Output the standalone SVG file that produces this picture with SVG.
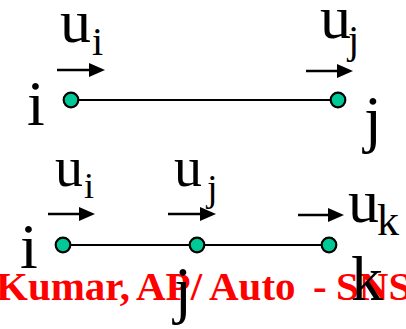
<svg xmlns="http://www.w3.org/2000/svg" width="406" height="329" viewBox="0 0 406 329">
  <style>
    .lbl { font-family: 'Liberation Serif', serif; fill: #000; }
    .mark { font-family: 'Liberation Serif', serif; font-weight: bold; font-size: 41px; fill: #FF0000; }
    .bar { stroke: #000; stroke-width: 2.2; fill: none; }
    .node { fill: #00C897; stroke: #000; stroke-width: 2.2; }
    .disp { stroke: #000; stroke-width: 2.5; fill: none; marker-end: url(#head); }
  </style>
  <defs>
    <marker id="head" viewBox="0 0 16 14" refX="10" refY="7" markerWidth="16" markerHeight="14" markerUnits="userSpaceOnUse" orient="auto">
      <path d="M0,0 L16,7 L0,14 Z" fill="#000"/>
    </marker>
  </defs>
  <rect width="406" height="329" fill="#fff"/>

  <!-- footer credit line -->
  <text class="mark" y="300"><tspan x="-4">Kumar,</tspan><tspan x="136">AP/</tspan><tspan x="209">Auto</tspan><tspan x="313">-</tspan><tspan x="336">SNS</tspan></text>

  <!-- bar elements -->
  <g id="connectors">
    <line class="bar" x1="71" y1="100" x2="338" y2="100"/>
    <line class="bar" x1="63" y1="245" x2="329" y2="245"/>
  </g>

  <!-- two-node element -->
  <g id="node-i-top">
    <circle class="node" cx="71" cy="100" r="7.3"/>
    <text class="lbl" x="27" y="125" font-size="64">i</text>
  </g>
  <g id="node-j-top">
    <circle class="node" cx="338" cy="100" r="7.3"/>
    <text class="lbl" x="364" y="140" font-size="64">j</text>
  </g>

  <!-- three-node element -->
  <g id="node-i-bottom">
    <circle class="node" cx="63" cy="245" r="7.3"/>
    <text class="lbl" x="20" y="268" font-size="64">i</text>
  </g>
  <g id="node-j-bottom">
    <circle class="node" cx="197" cy="245" r="7.3"/>
    <text class="lbl" x="174" y="311" font-size="64">j</text>
  </g>
  <g id="node-k-bottom">
    <circle class="node" cx="329" cy="245" r="7.3"/>
    <text class="lbl" x="351" y="300" font-size="64">k</text>
  </g>

  <!-- nodal displacements -->
  <g id="displacements">
    <line class="disp" x1="57" y1="70" x2="99" y2="70"/>
    <text class="lbl" x="60" y="42" font-size="62">u</text>
    <text class="lbl" x="92" y="55" font-size="40">i</text>

    <line class="disp" x1="306" y1="71" x2="347" y2="71"/>
    <text class="lbl" x="320" y="38" font-size="62">u</text>
    <text class="lbl" x="348" y="53" font-size="40">j</text>

    <line class="disp" x1="48" y1="214" x2="89" y2="214"/>
    <text class="lbl" x="55" y="186" font-size="56">u</text>
    <text class="lbl" x="84" y="198" font-size="36">i</text>

    <line class="disp" x1="168" y1="214" x2="210" y2="214"/>
    <text class="lbl" x="174" y="186" font-size="56">u</text>
    <text class="lbl" x="207" y="201" font-size="38">j</text>

    <line class="disp" x1="298" y1="215" x2="338" y2="215"/>
    <text class="lbl" x="348" y="222" font-size="62">u</text>
    <text class="lbl" x="377" y="235" font-size="44">k</text>
  </g>
</svg>
